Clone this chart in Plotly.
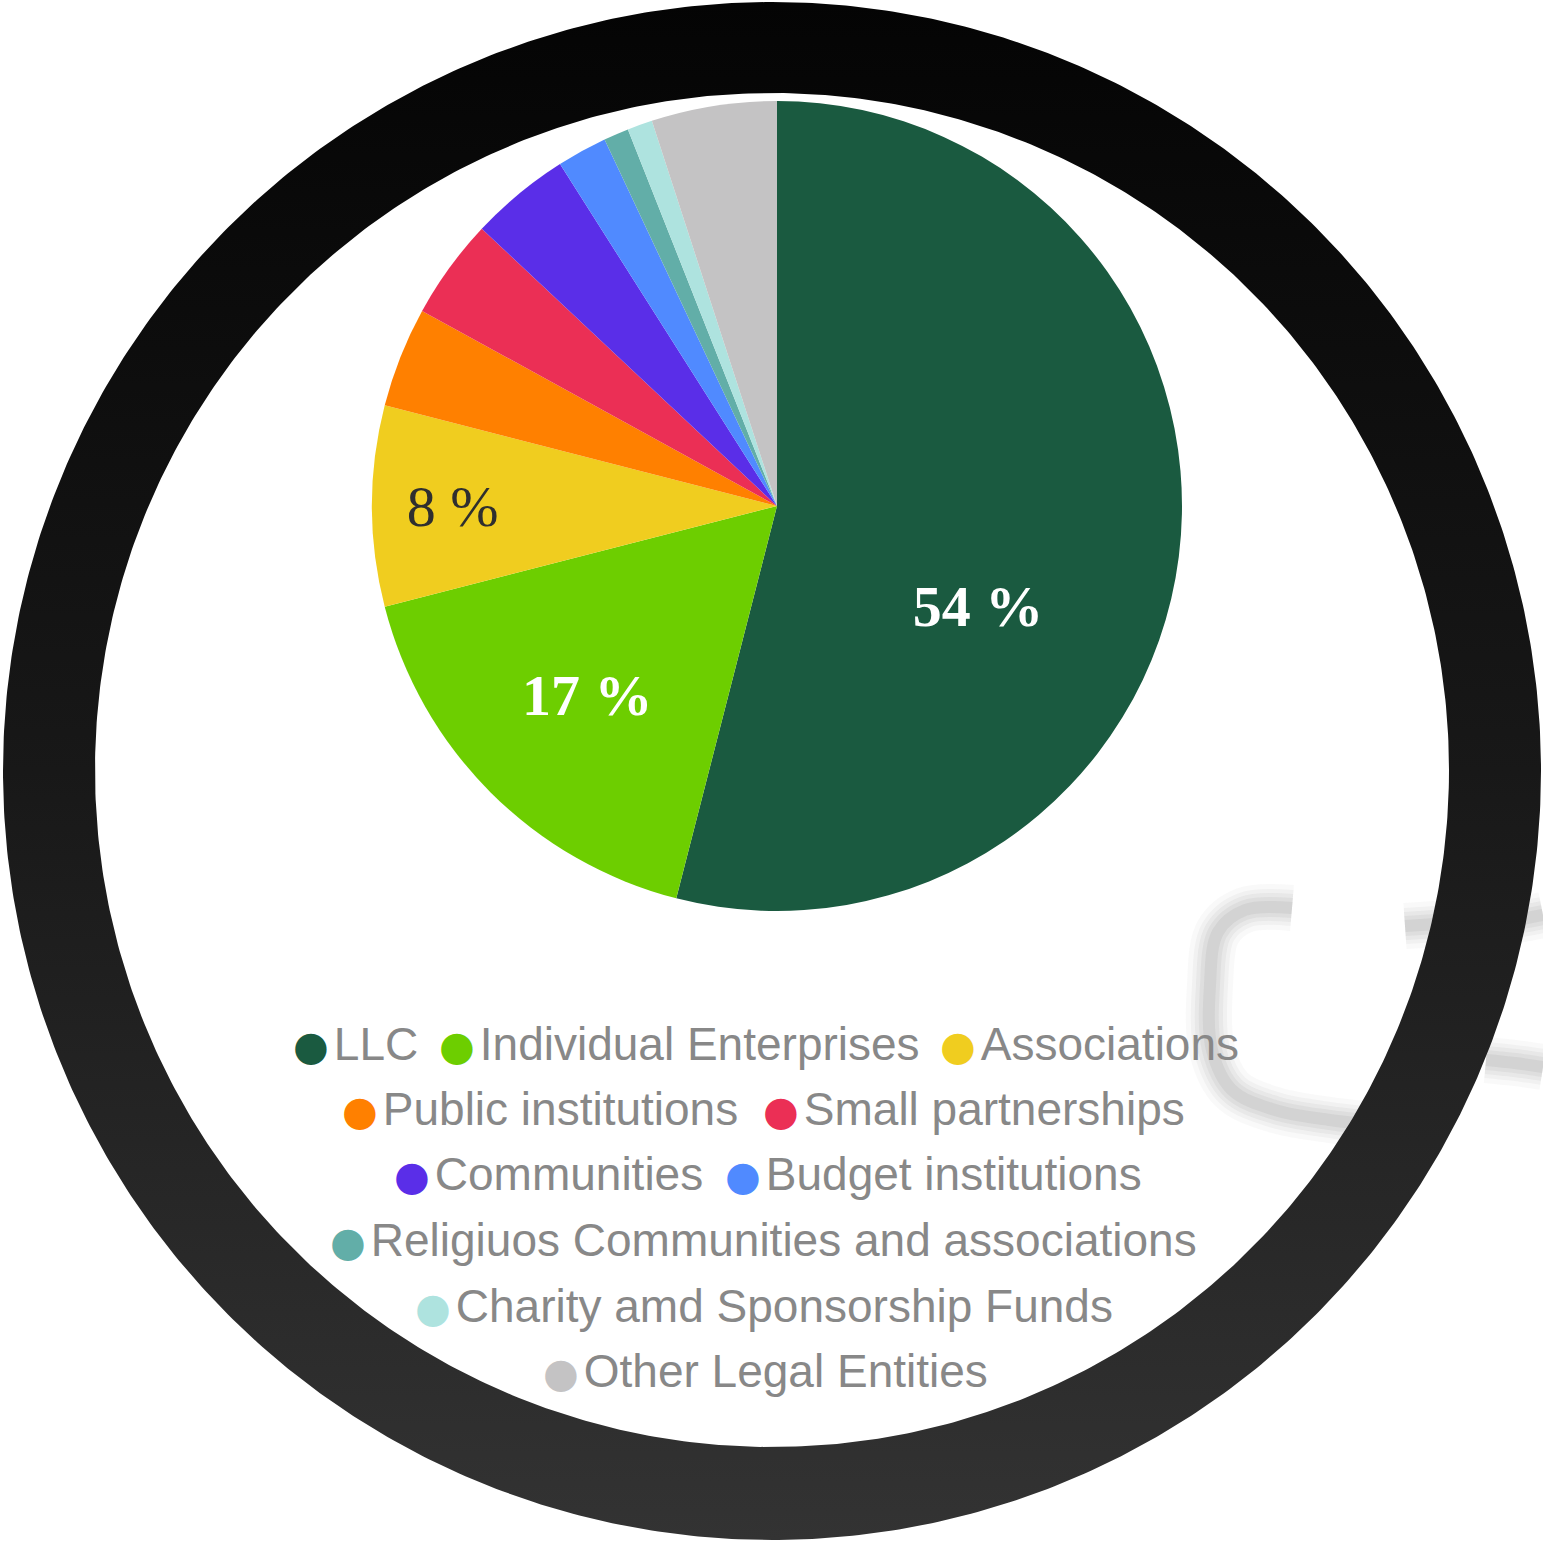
import numpy as np
import plotly.graph_objects as go

# ---------------- data ----------------
categories = [
    "LLC",
    "Individual Enterprises",
    "Associations",
    "Public institutions",
    "Small partnerships",
    "Communities",
    "Budget institutions",
    "Religiuos Communities and associations",
    "Charity amd Sponsorship Funds",
    "Other Legal Entities",
]
shares = [54, 17, 8, 4, 4, 4, 2, 1, 1, 5]
slice_colors = ["#1a5a40", "#6dce00", "#f0cd1f", "#ff8000", "#eb2f55",
                "#5a2ee8", "#508aff", "#62aea8", "#aee3df", "#c4c3c4"]
slice_labels = ["54 %", "17 %", "8 %", "", "", "", "", "", "", ""]
label_bold = [True, True, False, False, False, False, False, False, False, False]
label_colors = ["#ffffff", "#ffffff", "#2f2f2f", "#ffffff", "#ffffff",
                "#ffffff", "#ffffff", "#ffffff", "#ffffff", "#ffffff"]
label_drop_lines = [2, 0, 0, 0, 0, 0, 0, 0, 0, 0]  # blank lines above a label
legend_rows = [[0, 1, 2], [3, 4], [5, 6], [7], [8], [9]]

# ---------------- layout constants ----------------
W, H = 1543, 1541
ring_cx, ring_cy = 772, 771
ring_outer, ring_inner = 769, 677
pie_box = (372, 101, 1182, 911)  # left, top, right, bottom (px)
legend_row_y = [1042, 1107, 1172, 1238, 1304, 1369]
legend_item_left = [296, 442, 943, 345, 766, 397, 728, 333, 418, 546]
legend_text_offset = 28  # px between legend box edge and first glyph

fig = go.Figure()

# faint blurred decoration behind the ring (right side)
deco_paths = [
    ([1292, 1245, 1218, 1210, 1212, 1232, 1275, 1330, 1385],
     [908, 910, 932, 985, 1050, 1090, 1110, 1120, 1126]),
    ([1405, 1455, 1500, 1543], [926, 923, 922, 915]),
    ([1486, 1515, 1543], [1060, 1063, 1067]),
]
for xs, ys in deco_paths:
    for wdt, a in [(46, 0.045), (36, 0.055), (28, 0.07), (20, 0.08), (12, 0.095)]:
        fig.add_trace(go.Scatter(
            x=xs, y=ys, mode="lines",
            line=dict(color=f"rgba(110,110,110,{a})", width=wdt, shape="spline"),
            hoverinfo="skip", showlegend=False))

# black ring with vertical gradient
t = np.linspace(0, 2 * np.pi, 721)
ox = ring_cx + ring_outer * np.cos(t)
oy = ring_cy + ring_outer * np.sin(t)
ix = ring_cx + ring_inner * np.cos(-t)
iy = (ring_cy - 1) + ring_inner * np.sin(-t)
rx = list(ox) + [None] + list(ix)
ry = list(oy) + [None] + list(iy)
fig.add_trace(go.Scatter(
    x=rx, y=ry, mode="lines", fill="toself",
    line=dict(width=0, color="rgba(0,0,0,0)"),
    fillgradient=dict(type="vertical",
                      colorscale=[[0, "#040404"], [0.5, "#181818"], [1, "#333333"]],
                      start=ring_cy - ring_outer, stop=ring_cy + ring_outer),
    hoverinfo="skip", showlegend=False))

# pie
texts = []
for s, bld, drop in zip(slice_labels, label_bold, label_drop_lines):
    if not s:
        texts.append("")
        continue
    core = f"<b>{s}</b>" if bld else s
    texts.append("\u00a0<br>" * drop + core)
l, tp, r, b = pie_box
fig.add_trace(go.Pie(
    labels=categories, values=shares, sort=False, direction="clockwise",
    rotation=0,
    marker=dict(colors=slice_colors, line=dict(width=0)),
    text=texts, texttemplate="%{text}", textinfo="text",
    textposition="inside", insidetextorientation="horizontal",
    textfont=dict(family="Liberation Serif", size=58, color=label_colors),
    domain=dict(x=[l / W, r / W], y=[1 - b / H, 1 - tp / H]),
    hoverinfo="skip", showlegend=False))

# legend entries (one small legend per entry, laid out in rows)
legends = {}
n = 0
for k, row in enumerate(legend_rows):
    for i in row:
        n += 1
        key = "legend" if n == 1 else f"legend{n}"
        legends[key] = dict(
            orientation="h",
            x=(legend_item_left[i] - legend_text_offset) / W, xanchor="left",
            y=1 - legend_row_y[k] / H, yanchor="middle",
            font=dict(family="Liberation Sans", size=46, color="#888888"),
            bgcolor="rgba(0,0,0,0)", itemwidth=30, indentation=-15,
            borderwidth=0)
        name = (f'<span style="color:{slice_colors[i]};font-family:DejaVu Sans;font-size:41px">\u25CF</span>'
                f'<span style="font-size:18px"> </span>{categories[i]}')
        fig.add_trace(go.Scatter(
            x=[None], y=[None], mode="markers",
            marker=dict(size=1, color="rgba(0,0,0,0)"),
            name=name, legend=key, showlegend=True, hoverinfo="skip"))

fig.update_layout(
    width=W, height=H, margin=dict(l=0, r=0, t=0, b=0),
    paper_bgcolor="white", plot_bgcolor="white",
    xaxis=dict(visible=False, range=[0, W], fixedrange=True),
    yaxis=dict(visible=False, range=[H, 0], fixedrange=True),
    **legends,
)

fig.write_html("out.html", config={"displayModeBar": False},
               post_script="document.body.style.margin='0';document.body.style.overflow='hidden';")
